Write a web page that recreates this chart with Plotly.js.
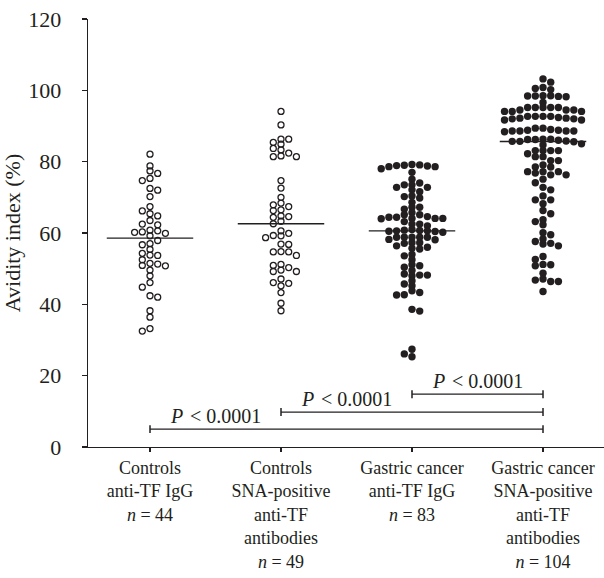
<!DOCTYPE html>
<html>
<head>
<meta charset="utf-8">
<script src="https://cdn.plot.ly/plotly-3.0.1.min.js"></script>
<style>
  html, body { margin: 0; padding: 0; background: #ffffff; }
  #chart { width: 604px; height: 578px; }
</style>
</head>
<body>
<div id="chart"></div>
<script>
// ---------------- data ----------------
const groupLabels = [
  "Controls<br>anti-TF IgG<br><i>n</i> = 44",
  "Controls<br>SNA-positive<br>anti-TF<br>antibodies<br><i>n</i> = 49",
  "Gastric cancer<br>anti-TF IgG<br><i>n</i> = 83",
  "Gastric cancer<br>SNA-positive<br>anti-TF<br>antibodies<br><i>n</i> = 104"
];

const controlsIgG = [
  82.1, 78.8, 77.4, 76.7, 75.3, 74.7, 72.5, 72.0, 70.2, 67.4, 66.2, 65.4, 64.8, 63.5,
  62.5, 62.3, 60.6, 60.3, 60.8, 59.2, 59.9, 60.2, 57.9, 57.0, 56.7, 55.4, 54.3, 53.8,
  53.7, 52.5, 51.3, 50.9, 50.8, 51.5, 49.6, 48.0, 46.1, 44.8, 42.0, 42.4, 38.2, 36.4,
  32.5, 33.2
];

const controlsSNA = [
  94.1, 90.3, 86.3, 86.3, 85.4, 84.9, 83.7, 83.3, 82.4, 81.4, 81.4, 81.6, 74.7, 72.6,
  70.0, 68.4, 67.4, 67.9, 66.5, 66.3, 64.6, 64.4, 64.8, 63.3, 62.6, 59.9, 59.2, 59.3,
  60.6, 58.7, 56.9, 56.8, 54.7, 53.7, 54.7, 54.8, 51.2, 50.3, 49.2, 49.2, 49.6, 50.9,
  47.1, 45.2, 45.9, 46.1, 43.3, 40.3, 38.2
];

const cancerIgG = [
  79.2, 79.0, 78.8, 78.6, 78.0, 78.6, 78.9, 79.1, 77.0, 75.1,
  73.5, 72.8, 72.1, 71.6, 72.8, 73.5, 74.0,
  70.2, 69.8, 70.4, 68.6,
  67.2, 66.7, 67.2, 65.7,
  65.1, 64.4, 64.1, 64.1, 63.2, 64.0, 64.1, 64.4, 64.6, 65.1,
  62.5, 62.0, 62.5,
  61.0, 60.8, 60.6, 60.5, 60.6, 60.4, 60.7, 60.2,
  58.8, 58.8, 58.8, 58.1, 58.2, 58.8, 58.8,
  57.3, 57.1, 56.4, 57.3,
  55.7, 55.5, 56.0,
  54.0, 53.6,
  52.5,
  50.8, 50.4, 51.1,
  49.5,
  48.2, 48.0, 48.2, 48.5,
  45.7, 45.2, 46.6,
  43.3, 42.6, 42.7, 43.8,
  38.6, 38.1,
  27.4, 25.3, 26.1
];

const cancerSNA = [
  103.2, 102.3, 100.8, 100.5, 100.2,
  98.4, 98.3, 98.5, 98.4, 98.2, 98.5, 96.6,
  95.2, 95.2, 94.5, 94.5, 94.1, 94.1, 94.1, 94.5, 95.2, 95.2, 95.2,
  92.7, 92.7, 92.2, 92.0, 91.7, 91.7, 92.0, 92.2, 92.4, 92.7, 92.7,
  89.4, 88.6, 88.4, 88.6, 88.6, 88.8, 88.6, 88.8, 89.0, 89.4,
  86.3, 86.2, 85.8, 85.7, 86.0, 85.7, 85.6, 86.2, 86.3,
  84.7, 85.0,
  83.1, 83.1, 83.1, 83.1, 82.2,
  81.4, 81.4, 80.3, 80.3, 79.1, 78.5, 78.5,
  77.2, 76.3, 76.8, 76.3, 77.2, 77.2,
  75.1, 74.1, 72.8, 72.1,
  70.4, 69.3, 69.3, 68.2,
  66.3, 65.4,
  63.2, 62.3, 63.7,
  60.1, 59.5,
  57.6, 56.9, 56.4, 57.1, 58.3,
  53.4, 52.6,
  51.2, 51.1, 50.8,
  48.7,
  47.1, 46.4, 46.4, 46.8,
  43.6
];

const comparisons = [[0, 3], [1, 3], [2, 3]];
const bracketLevels = [5.0, 9.8, 14.8];
const pLabels = ["<i>P</i> \u200A&lt; 0.0001", "<i>P</i> \u200A&lt; 0.0001", "<i>P</i> \u200A&lt; 0.0001"];

// ---------------- layout geometry ----------------
const W = 604, H = 578;
const margin = { l: 88, r: 0, t: 19, b: 131 };
const xRange = [-0.4733, 3.4656];
const yRange = [0, 120];
const plotW = W - margin.l - margin.r;
const plotH = H - margin.t - margin.b;
const pxPerX = plotW / (xRange[1] - xRange[0]);
const pxPerY = plotH / (yRange[1] - yRange[0]);

const INK = "#231f20";
const FONT = "Liberation Serif, Times New Roman, serif";

// Prism-like swarm: points whose values are close sit side by side in a row
function swarmOffsets(values, dPx, hPx) {
  const order = values.map((v, i) => i).sort((a, b) => values[b] - values[a]);
  const placed = [];
  const off = new Array(values.length).fill(0);
  const step = dPx / 2;
  let toggle = 1;
  for (const i of order) {
    const yp = values[i] * pxPerY;
    const free = (x) => placed.every(p => !(Math.abs(p.x - x) < dPx * 0.98 && Math.abs(p.y - yp) < hPx));
    let chosen = null;
    for (let k = 0; k < 200 && chosen === null; k++) {
      if (k === 0) { if (free(0)) chosen = 0; continue; }
      const a = toggle * k * step, b = -toggle * k * step;
      const fa = free(a), fb = free(b);
      if (fa) { chosen = a; if (fb) toggle = -toggle; }
      else if (fb) chosen = b;
    }
    placed.push({ x: chosen, y: yp });
    off[i] = chosen;
  }
  return off;
}

function median(arr) {
  const s = arr.slice().sort((a, b) => a - b);
  const n = s.length;
  return n % 2 ? s[(n - 1) / 2] : (s[n / 2 - 1] + s[n / 2]) / 2;
}

const groups = [controlsIgG, controlsSNA, cancerIgG, cancerSNA];
const DIAM = 7.7;
const traces = groups.map((vals, gi) => {
  const offs = swarmOffsets(vals, DIAM, 4.8);
  const open = gi < 2;
  return {
    type: "scatter",
    mode: "markers",
    x: offs.map(o => gi + o / pxPerX),
    y: vals,
    hoverinfo: "skip",
    showlegend: false,
    cliponaxis: false,
    marker: open
      ? { symbol: "circle-open", size: 6, color: INK, line: { width: 1.3, color: INK } }
      : { symbol: "circle", size: 7.4, color: INK, line: { width: 0 } }
  };
});

const shapes = [];
groups.forEach((vals, gi) => {
  const m = median(vals);
  shapes.push({ type: "line", xref: "x", yref: "y", x0: gi - 0.33, x1: gi + 0.33, y0: m, y1: m,
                line: { color: INK, width: 1.3 } });
});
const annotations = [];
comparisons.forEach((pair, k) => {
  const y = bracketLevels[k];
  shapes.push({ type: "line", xref: "x", yref: "y", x0: pair[0], x1: pair[1], y0: y, y1: y,
                line: { color: INK, width: 1.3 } });
  pair.forEach(px => shapes.push({ type: "line", xref: "x", yref: "y", x0: px, x1: px,
                y0: y - 1.1, y1: y + 1.1, line: { color: INK, width: 1.5 } }));
  annotations.push({ xref: "x", yref: "y", x: pair[0] + 0.5, y: y, text: pLabels[k],
                     showarrow: false, xanchor: "center", yanchor: "bottom", yshift: 0,
                     font: { family: FONT, size: 20, color: INK } });
});

const layout = {
  width: W, height: H,
  margin: margin,
  paper_bgcolor: "#ffffff",
  plot_bgcolor: "#ffffff",
  showlegend: false,
  font: { family: FONT, size: 18, color: INK },
  xaxis: {
    range: xRange,
    tickmode: "array",
    tickvals: [0, 1, 2, 3],
    ticktext: groupLabels,
    showgrid: false, zeroline: false,
    showline: true, linecolor: INK, linewidth: 1.3,
    ticks: "outside", ticklen: 4, tickwidth: 1.3, tickcolor: INK,
    tickfont: { family: FONT, size: 18, color: INK }
  },
  yaxis: {
    range: yRange,
    tickmode: "linear", tick0: 0, dtick: 20,
    showgrid: false, zeroline: false,
    showline: true, linecolor: INK, linewidth: 1.3,
    ticks: "outside", ticklen: 5, tickwidth: 1.3, tickcolor: INK,
    ticklabelstandoff: 16,
    tickfont: { family: FONT, size: 22, color: INK },
    title: { text: "Avidity index (%)", font: { family: FONT, size: 22, color: INK }, standoff: 3 }
  },
  shapes: shapes,
  annotations: annotations
};

Plotly.newPlot("chart", traces, layout, { staticPlot: true, displayModeBar: false });
</script>
</body>
</html>
